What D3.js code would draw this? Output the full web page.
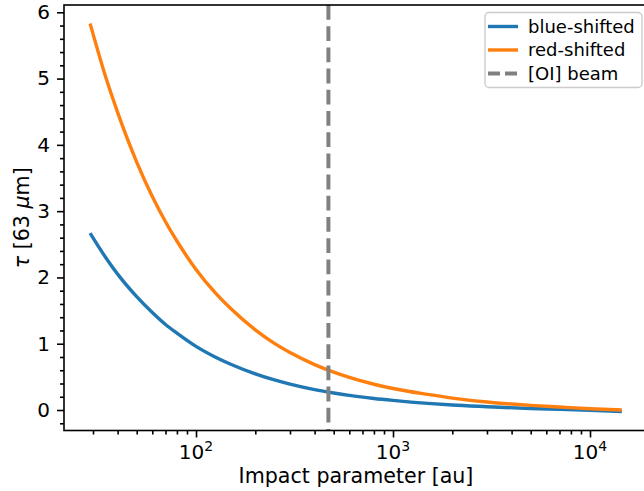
<!DOCTYPE html>
<html>
<head>
<meta charset="utf-8">
<script src="https://cdn.jsdelivr.net/npm/d3@7"></script>
<style>
  html, body { margin: 0; padding: 0; background: #fff; }
  svg { display: block; font-family: "DejaVu Sans", sans-serif; }
</style>
</head>
<body>
<svg id="chart" width="644" height="491"></svg>
<script>
// Optical depth of the [OI] 63 µm line versus impact parameter
const impactAu = [29, 35, 40, 50, 60, 70, 80, 100, 125, 150, 200, 250, 300, 400, 500,
                  600, 800, 1000, 1500, 2000, 3000, 5000, 7000, 10000, 14500];
const tauBlue  = [2.67, 2.29, 2.05, 1.71, 1.47, 1.29, 1.16, 0.96, 0.80, 0.69, 0.545, 0.453, 0.39, 0.307, 0.256,
                  0.22, 0.174, 0.145, 0.10, 0.075, 0.05, 0.022, 0.01, -0.005, -0.025];
const tauRed   = [5.83, 5.00, 4.49, 3.74, 3.22, 2.84, 2.55, 2.12, 1.77, 1.53, 1.21, 1.005, 0.867, 0.685, 0.571,
                  0.492, 0.389, 0.324, 0.235, 0.18, 0.12, 0.07, 0.045, 0.02, 0.0];
const beamAu = 470;

const seriesNames  = ["blue-shifted", "red-shifted", "[OI] beam"];
const seriesColors = ["#1f77b4", "#ff7f0e", "#808080"];
const yTickValues  = [0, 1, 2, 3, 4, 5, 6];
const xTickValues  = [100, 1000, 10000];
const xTickExps    = ["2", "3", "4"];

const svg = d3.select("#chart");
const plotL = 64, plotR = 648, plotT = 5, plotB = 430.5;

const x = d3.scaleLog().domain([Math.pow(10, 1.3299), Math.pow(10, 4.2944)]).range([plotL, plotR]);
const y = d3.scaleLinear().domain([-0.309, 6.110]).range([plotB, plotT]);

svg.append("defs").append("clipPath").attr("id", "plotClip")
  .append("rect").attr("x", plotL).attr("y", plotT).attr("width", plotR - plotL).attr("height", plotB - plotT);

const plot = svg.append("g").attr("clip-path", "url(#plotClip)");

const line = d3.line().x(d => x(d[0])).y(d => y(d[1])).curve(d3.curveMonotoneX);

plot.append("path")
  .datum(impactAu.map((r, i) => [r, tauBlue[i]]))
  .attr("d", line).attr("fill", "none")
  .attr("stroke", seriesColors[0]).attr("stroke-width", 3.4);

plot.append("path")
  .datum(impactAu.map((r, i) => [r, tauRed[i]]))
  .attr("d", line).attr("fill", "none")
  .attr("stroke", seriesColors[1]).attr("stroke-width", 3.4);

plot.append("line")
  .attr("x1", x(beamAu)).attr("x2", x(beamAu))
  .attr("y1", plotT).attr("y2", plotB)
  .attr("stroke", seriesColors[2]).attr("stroke-width", 4)
  .attr("stroke-dasharray", "14.8,6.4");

// x axis: major decades with superscript labels, minor ticks in between
const xMinor = [];
[10, 100, 1000, 10000].forEach(dec => {
  for (let k = 2; k <= 9; k++) {
    const v = dec * k;
    if (x(v) >= plotL && x(v) <= plotR) xMinor.push(v);
  }
});
svg.append("g").attr("transform", `translate(0,${plotB})`)
  .call(d3.axisBottom(x).tickValues(xMinor).tickSize(4).tickFormat(""))
  .call(g => g.select(".domain").remove())
  .call(g => g.selectAll("line").attr("stroke", "#000").attr("stroke-width", 1.6));
svg.append("g").attr("transform", `translate(0,${plotB})`)
  .call(d3.axisBottom(x).tickValues(xTickValues).tickSize(7).tickFormat(""))
  .call(g => g.select(".domain").remove())
  .call(g => g.selectAll("line").attr("stroke", "#000").attr("stroke-width", 1.6));
xTickValues.forEach((v, i) => {
  const t = svg.append("text")
    .attr("x", x(v)).attr("y", 459)
    .attr("text-anchor", "middle")
    .attr("font-size", 20).attr("fill", "#000");
  t.append("tspan").text("10");
  t.append("tspan").attr("dy", -8).attr("font-size", 14).text(xTickExps[i]);
});

// y axis
const yMinor = d3.range(-2, 61, 2).map(v => v / 10).filter(v => Math.abs(v - Math.round(v)) > 1e-9);
svg.append("g").attr("transform", `translate(${plotL},0)`)
  .call(d3.axisLeft(y).tickValues(yMinor).tickSize(4).tickFormat(""))
  .call(g => g.select(".domain").remove())
  .call(g => g.selectAll("line").attr("stroke", "#000").attr("stroke-width", 1.6));
svg.append("g").attr("transform", `translate(${plotL},0)`)
  .call(d3.axisLeft(y).tickValues(yTickValues).tickSize(7).tickPadding(7).tickFormat(d3.format("d")))
  .call(g => g.select(".domain").remove())
  .call(g => g.selectAll("line").attr("stroke", "#000").attr("stroke-width", 1.6))
  .call(g => g.selectAll("text").attr("font-size", 20).attr("fill", "#000")
    .attr("font-family", "DejaVu Sans"));

// frame
svg.append("rect")
  .attr("x", plotL).attr("y", plotT).attr("width", plotR - plotL).attr("height", plotB - plotT)
  .attr("fill", "none").attr("stroke", "#000").attr("stroke-width", 1.6);

// axis labels
svg.append("text")
  .attr("x", (plotL + plotR) / 2).attr("y", 483)
  .attr("text-anchor", "middle").attr("font-size", 20.6).attr("fill", "#000")
  .text("Impact parameter [au]");

const yl = svg.append("text")
  .attr("transform", `translate(29,${(plotT + plotB) / 2}) rotate(-90)`)
  .attr("text-anchor", "middle").attr("font-size", 20.6).attr("fill", "#000");
yl.append("tspan").attr("font-style", "italic").text("τ");
yl.append("tspan").text(" [63 ");
yl.append("tspan").attr("font-style", "italic").text("μ");
yl.append("tspan").text("m]");

// legend
const legend = svg.append("g");
legend.append("rect")
  .attr("x", 485).attr("y", 12.5).attr("width", 157).attr("height", 75).attr("rx", 4)
  .attr("fill", "#fff").attr("fill-opacity", 0.8)
  .attr("stroke", "#cccccc").attr("stroke-width", 1.4);
const rowY = [26.5, 50, 73.5];
seriesNames.forEach((name, i) => {
  legend.append("line")
    .attr("x1", 488).attr("x2", 518).attr("y1", rowY[i]).attr("y2", rowY[i])
    .attr("stroke", seriesColors[i])
    .attr("stroke-width", i === 2 ? 4 : 3.4)
    .attr("stroke-dasharray", i === 2 ? "12,5" : null);
  legend.append("text")
    .attr("x", 528).attr("y", rowY[i]).attr("dy", "0.35em")
    .attr("font-size", 18).attr("fill", "#000")
    .text(name);
});
</script>
</body>
</html>
